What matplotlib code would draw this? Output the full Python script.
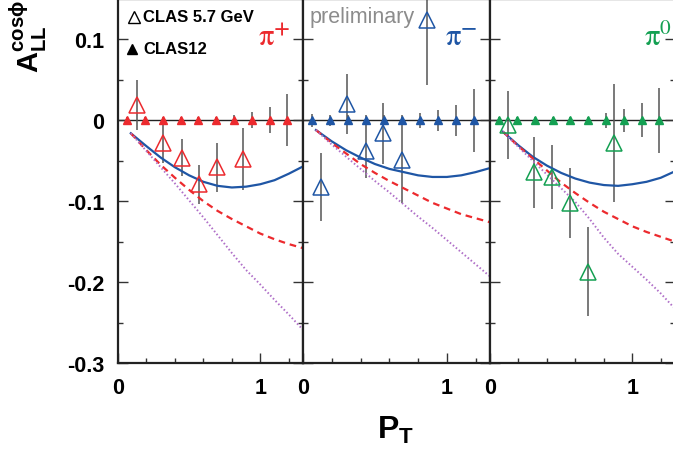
import matplotlib
matplotlib.use('Agg')
import matplotlib.pyplot as plt
from matplotlib.ticker import FixedLocator

plt.rcParams['font.family'] = ['Liberation Sans', 'DejaVu Sans']
plt.rcParams['mathtext.fontset'] = 'custom'
plt.rcParams['mathtext.bf'] = 'Liberation Sans:bold'
plt.rcParams['mathtext.rm'] = 'Liberation Sans'
plt.rcParams['mathtext.it'] = 'Liberation Sans:italic'

# CLAS12 projections (filled triangles, all at zero)
clas12_pt = [0.065, 0.19, 0.315, 0.44, 0.565, 0.69, 0.815, 0.94, 1.065, 1.19]
clas12_val = [0, 0, 0, 0, 0, 0, 0, 0, 0, 0]
clas12_err_pip = [0.004, 0.004, 0.004, 0.004, 0.004, 0.004, 0.006, 0.01, 0.016, 0.032]
clas12_err_pim = [0.008, 0.007, 0.006, 0.006, 0.006, 0.006, 0.009, 0.013, 0.019, 0.039]
clas12_err_pi0 = [0.004, 0.004, 0.004, 0.004, 0.004, 0.004, 0.009, 0.014, 0.021, 0.04]

# CLAS 5.7 GeV data (open triangles)
pip_pt = [0.13, 0.318, 0.447, 0.571, 0.699, 0.881]
pip_val = [0.019, -0.028, -0.046, -0.079, -0.058, -0.048]
pip_err = [0.031, 0.025, 0.023, 0.024, 0.03, 0.038]

pim_pt = [0.123, 0.304, 0.437, 0.558, 0.686, 0.862]
pim_val = [-0.082, 0.02, -0.038, -0.016, -0.049, 0.124]
pim_err = [0.042, 0.037, 0.033, 0.038, 0.053, 0.08]

pi0_pt = [0.128, 0.31, 0.438, 0.562, 0.69, 0.874]
pi0_val = [-0.006, -0.064, -0.07, -0.102, -0.187, -0.028]
pi0_err = [0.042, 0.044, 0.039, 0.043, 0.055, 0.073]

# model curves
curve_pt = [0.09, 0.2, 0.3, 0.4, 0.5, 0.6, 0.7, 0.8, 0.9, 1.0, 1.1, 1.2, 1.3]
pip_solid = [-0.016, -0.032, -0.046, -0.058, -0.068, -0.076, -0.081, -0.083, -0.082, -0.079, -0.074, -0.066, -0.057]
pip_dash = [-0.016, -0.037, -0.055, -0.071, -0.086, -0.100, -0.112, -0.122, -0.131, -0.140, -0.147, -0.153, -0.158]
pip_dot = [-0.016, -0.038, -0.058, -0.078, -0.099, -0.120, -0.142, -0.164, -0.185, -0.203, -0.222, -0.240, -0.259]
pim_solid = [-0.012, -0.026, -0.037, -0.046, -0.054, -0.060, -0.064, -0.068, -0.070, -0.070, -0.068, -0.064, -0.059]
pim_dash = [-0.012, -0.028, -0.041, -0.054, -0.065, -0.075, -0.084, -0.093, -0.102, -0.109, -0.116, -0.121, -0.126]
pim_dot = [-0.012, -0.030, -0.045, -0.060, -0.075, -0.089, -0.104, -0.119, -0.133, -0.148, -0.163, -0.178, -0.193]
pi0_solid = [-0.014, -0.031, -0.045, -0.056, -0.065, -0.072, -0.077, -0.080, -0.081, -0.079, -0.076, -0.071, -0.063]
pi0_dash = [-0.014, -0.032, -0.047, -0.062, -0.077, -0.090, -0.102, -0.113, -0.122, -0.131, -0.138, -0.144, -0.150]
pi0_dot = [-0.014, -0.033, -0.050, -0.067, -0.084, -0.101, -0.122, -0.145, -0.165, -0.181, -0.197, -0.214, -0.233]

y_ticks = [-0.3, -0.2, -0.1, 0, 0.1]
y_ticklabels = ['-0.3', '-0.2', '-0.1', '0', '0.1']
y_minor = [-0.25, -0.15, -0.05, 0.05]

BLUE = '#1f56a5'
RED = '#ec2a2e'
PURPLE = '#b070c8'
GREEN = '#14a052'
ERRC = '#555555'

panels = [
    dict(col=RED, label=r'$\mathrm{\pi}^{\mathbf{+}}$', pt=pip_pt, val=pip_val, err=pip_err, err12=clas12_err_pip,
         solid=pip_solid, dash=pip_dash, dot=pip_dot, left=118, width=185),
    dict(col=BLUE, label=r'$\mathrm{\pi}^{\mathbf{-}}$', pt=pim_pt, val=pim_val, err=pim_err, err12=clas12_err_pim,
         solid=pim_solid, dash=pim_dash, dot=pim_dot, left=303, width=187),
    dict(col=GREEN, label=r'$\mathrm{\pi}^{\mathrm{0}}$', pt=pi0_pt, val=pi0_val, err=pi0_err, err12=clas12_err_pi0,
         solid=pi0_solid, dash=pi0_dash, dot=pi0_dot, left=490, width=185),
]

W, H = 673, 452
fig = plt.figure(figsize=(W / 100, H / 100), dpi=100)

axes = []
for i, p in enumerate(panels):
    ax = fig.add_axes([p['left'] / W, 88 / H, p['width'] / W, 364 / H])
    axes.append(ax)
    ax.set_xlim(0, 1.3)
    ax.set_ylim(-0.3, 0.15)
    ax.axhline(0, color='#222222', lw=1.0, zorder=1)

    ax.plot(curve_pt, p['solid'], color=BLUE, lw=1.6, zorder=3)
    ax.plot(curve_pt, p['dash'], color=RED, lw=1.6, dashes=(3, 2.2), zorder=3)
    ax.plot(curve_pt, p['dot'], color=PURPLE, lw=1.4, dashes=(0.8, 1.2), zorder=3)

    ax.errorbar(clas12_pt, clas12_val, yerr=p['err12'], fmt='none', ecolor=ERRC, elinewidth=1.1, zorder=2)
    ax.plot(clas12_pt, clas12_val, ls='none', marker='^', ms=5.5, color=p['col'], zorder=4)

    ax.errorbar(p['pt'], p['val'], yerr=p['err'], fmt='none', ecolor=ERRC, elinewidth=1.1, zorder=2)
    ax.plot(p['pt'], p['val'], ls='none', marker='^', ms=12, mfc='none', mec=p['col'], mew=1.1, zorder=5)

    ax.xaxis.set_major_locator(FixedLocator([0, 1]))
    ax.xaxis.set_minor_locator(FixedLocator([0.2, 0.4, 0.6, 0.8, 1.2]))
    ax.yaxis.set_major_locator(FixedLocator(y_ticks))
    ax.yaxis.set_minor_locator(FixedLocator(y_minor))
    ax.set_xticklabels(['0', '1'])
    ax.tick_params(which='both', direction='in', right=True, top=False, width=1.0, color='#333333',
                   labelsize=15.5)
    ax.tick_params(which='major', length=7, pad=10)
    ax.tick_params(which='minor', length=3.5)
    if i == 0:
        ax.set_yticklabels(y_ticklabels)
    else:
        ax.tick_params(axis='y', labelleft=False)
    for lab in ax.get_xticklabels() + ax.get_yticklabels():
        lab.set_fontweight('bold')
    for s in ax.spines.values():
        s.set_linewidth(1.6)
        s.set_color('#222222')

    ax.text(0.93 if i < 2 else 0.985, 0.875, p['label'], transform=ax.transAxes, ha='right',
            va='baseline', color=p['col'], fontsize=22, math_fontfamily='stix')

# legend in the first panel
ax0 = axes[0]
ax0.plot([0.086], [0.951], marker='^', ms=9, mfc='none', mec='black', mew=1.0,
         transform=ax0.transAxes, clip_on=False)
ax0.plot([0.076], [0.863], marker='^', ms=7, color='black', transform=ax0.transAxes, clip_on=False)
ax0.text(0.135, 0.951, 'CLAS 5.7 GeV', transform=ax0.transAxes, fontsize=12, fontweight='bold',
         va='center', ha='left')
ax0.text(0.135, 0.863, 'CLAS12', transform=ax0.transAxes, fontsize=12, fontweight='bold',
         va='center', ha='left')

axes[1].text(0.037, 0.953, 'preliminary', transform=axes[1].transAxes, fontsize=15.5,
             color='#8c8c8c', va='center', ha='left')

fig.text(28 / W, 1.0, r'$\mathbf{A}^{\mathbf{cos\phi}}_{\mathbf{LL}}$', rotation=90,
         ha='center', va='top', fontsize=21)
fig.text(396 / W, 1 - 430 / H, r'$\mathbf{P}_{\mathbf{T}}$', ha='center', va='center', fontsize=23)

fig.savefig('out.png', dpi=100)
